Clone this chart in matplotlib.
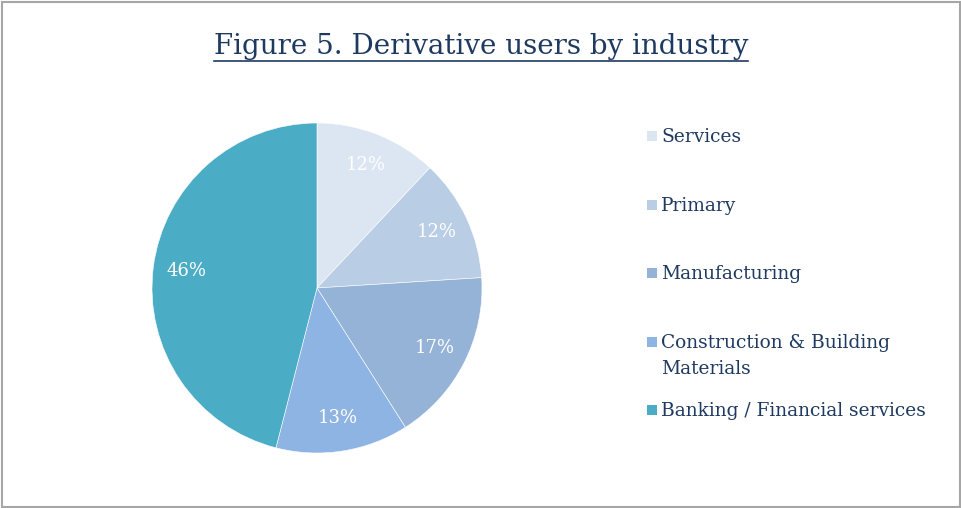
import matplotlib
matplotlib.use("Agg")
import matplotlib.pyplot as plt
from matplotlib.patches import Rectangle
from matplotlib.lines import Line2D

# Data
categories = ["Services", "Primary", "Manufacturing",
              "Construction & Building\nMaterials", "Banking / Financial services"]
shares = [12, 12, 17, 13, 46]
colors = ["#DCE6F2", "#B9CDE5", "#95B3D7", "#8EB4E3", "#4BACC6"]
title = "Figure 5. Derivative users by industry"

W, H = 961, 508
DPI = 100
text_color = "#1F3A60"
serif = ["DejaVu Serif"]

fig = plt.figure(figsize=(W / DPI, H / DPI), dpi=DPI)
fig.patch.set_facecolor("white")

# Outer frame
fig.add_artist(Rectangle((1.5 / W, 1.5 / H), (W - 3) / W, (H - 3) / H,
                         transform=fig.transFigure, fill=False,
                         edgecolor="#A6A6A6", linewidth=1.5))

# Pie
cx, cy, R = 317, 288, 165
ax = fig.add_axes([(cx - R) / W, (H - cy - R) / H, 2 * R / W, 2 * R / H])
wedges, _, autotexts = ax.pie(
    shares, colors=colors, startangle=90, counterclock=False,
    autopct=lambda p: f"{p:.0f}%", pctdistance=0.8,
    wedgeprops=dict(edgecolor="white", linewidth=0.4),
    textprops=dict(color="white", fontsize=13, family=serif))
ax.set_aspect("equal")
ax.set_xlim(-1, 1)
ax.set_ylim(-1, 1)
ax.axis("off")

# Title with underline
t = fig.text(481 / W, 1 - 54 / H, title, ha="center", va="baseline",
             fontsize=20, color=text_color, family=serif)
fig.canvas.draw()
bb = t.get_window_extent(renderer=fig.canvas.get_renderer())
uy = (H - 61) / H
fig.add_artist(Line2D([bb.x0 / W, bb.x1 / W], [uy, uy], transform=fig.transFigure,
                      color=text_color, linewidth=1.2))

# Legend
legend_y = [136, 205, 273, 342, 410]
for label, col, y in zip(categories, colors, legend_y):
    fig.add_artist(Rectangle((647 / W, (H - y - 5) / H), 10 / W, 10 / H,
                             transform=fig.transFigure, facecolor=col,
                             edgecolor="none"))
    for i, line in enumerate(label.split("\n")):
        fig.text(661 / W, 1 - (y - 1 + 26 * i) / H, line, ha="left",
                 va="center_baseline", fontsize=13.4, color=text_color,
                 family=serif)

fig.savefig("out.png", dpi=DPI, facecolor="white")
